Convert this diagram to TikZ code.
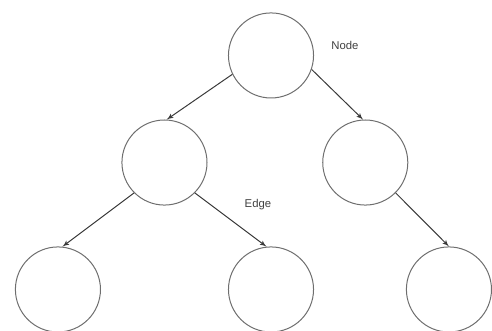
\documentclass[tikz,border=0pt]{standalone}
\usepackage{fontspec}
\setmainfont{Liberation Sans}
\usepackage{xcolor}
\usepackage{tikz}
\usetikzlibrary{arrows, positioning}

\definecolor{ringgray}{HTML}{6E6E6E}
\definecolor{edgegray}{HTML}{3A3A3A}
\definecolor{labelgray}{HTML}{404040}

\begin{document}
\begin{tikzpicture}[
    treenode/.style={circle, draw=ringgray, line width=0.75pt, minimum size=63.8pt, inner sep=0pt, on grid},
    tag/.style={text=labelgray, font=\fontsize{8.5}{10}\selectfont, inner sep=1pt, on grid},
    edge/.style={draw=edgegray, -latex', line width=0.75pt}
]
\useasboundingbox (0,0) rectangle (369pt,248.25pt);

% Root and first level
\node [treenode] (root) at (203.25pt,206.65pt) {};
\node [treenode, below left=80.3pt and 79.9pt of root] (left) {};
\node [treenode, below right=80.3pt and 70.7pt of root] (right) {};

% Leaves
\node [treenode, below left=95.2pt and 79.9pt of left] (leafa) {};
\node [treenode, below right=95.2pt and 79.9pt of left] (leafb) {};
\node [treenode, below right=95.2pt and 62.75pt of right] (leafc) {};

% Labels
\node [tag, above right=7.3pt and 55.5pt of root] (nodetag) {Node};
\node [tag, below right=31.9pt and 70.1pt of left] (edgetag) {Edge};

% Connections
\path [edge] (root.206) -- (left.87);
\path [edge] (root.341) -- (right.93);
\path [edge] (left.225) -- (leafa.84);
\path [edge] (left.315) -- (leafb.96);
\path [edge] (right.315) -- (leafc.90);

\end{tikzpicture}
\end{document}
